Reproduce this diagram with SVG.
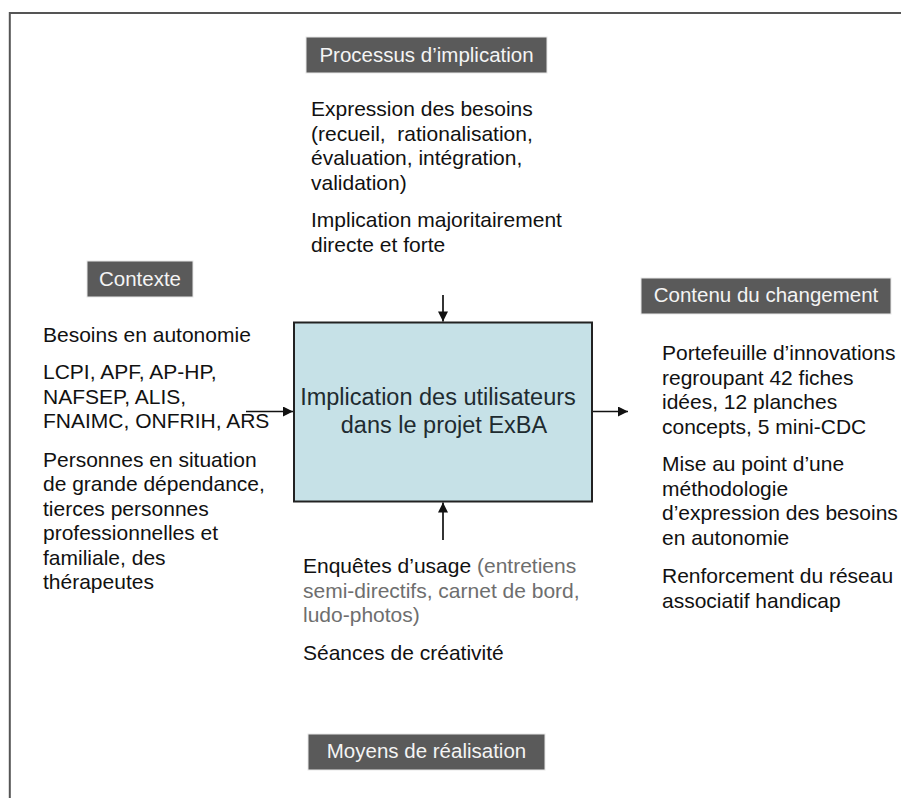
<svg xmlns="http://www.w3.org/2000/svg" width="901" height="798" viewBox="0 0 901 798">
<defs>
<style>
.hdr rect{fill:#5a5a5a;stroke:#e8e8e8;stroke-width:1}
.hdr text{font-family:"Liberation Sans",Arial,sans-serif;font-size:20.5px;fill:#f4f4f4;text-anchor:middle}
.body{font-family:"Liberation Sans",Arial,sans-serif;font-size:21px;fill:#111}
.gray{fill:#6e6e6e}
.conn line{stroke:#111;stroke-width:1.7;fill:none}
</style>
<marker id="ah" viewBox="0 0 10 10" refX="10" refY="5" markerWidth="13" markerHeight="10" markerUnits="userSpaceOnUse" orient="auto">
<path d="M0,0 L10,5 L0,10 Z" fill="#111"/>
</marker>
</defs>
<rect width="901" height="798" fill="#fff"/>
<path d="M9.8,798 V13 H901" fill="none" stroke="#555" stroke-width="2"/>

<g id="processus-header" class="hdr">
<rect x="306" y="37" width="241" height="36"/>
<text x="426.5" y="62">Processus d’implication</text>
</g>
<g id="processus-text" class="body">
<text x="311" y="116">Expression des besoins</text>
<text x="311" y="140.5" xml:space="preserve">(recueil,  rationalisation,</text>
<text x="311" y="165">évaluation, intégration,</text>
<text x="311" y="189.5">validation)</text>
<text x="311" y="227">Implication majoritairement</text>
<text x="311" y="251.5">directe et forte</text>
</g>

<g id="contexte-header" class="hdr">
<rect x="87" y="261" width="106" height="36"/>
<text x="140" y="285.5">Contexte</text>
</g>
<g id="contexte-text" class="body">
<text x="43" y="342">Besoins en autonomie</text>
<text x="43" y="379">LCPI, APF, AP-HP,</text>
<text x="43" y="403.5">NAFSEP, ALIS,</text>
<text x="43" y="428">FNAIMC, ONFRIH, ARS</text>
<text x="43" y="466.5">Personnes en situation</text>
<text x="43" y="491">de grande dépendance,</text>
<text x="43" y="515.5">tierces personnes</text>
<text x="43" y="540">professionnelles et</text>
<text x="43" y="564.5">familiale, des</text>
<text x="43" y="589">thérapeutes</text>
</g>

<g id="centre">
<rect x="294" y="322.5" width="298" height="179" fill="#c6e1e7" stroke="#222" stroke-width="2"/>
<text x="438" y="405" font-family="Liberation Sans, Arial, sans-serif" font-size="23.5" fill="#1e2b30" text-anchor="middle">Implication des utilisateurs</text>
<text x="444" y="433" font-family="Liberation Sans, Arial, sans-serif" font-size="23.5" fill="#1e2b30" text-anchor="middle">dans le projet ExBA</text>
</g>

<g id="contenu-header" class="hdr">
<rect x="641" y="278" width="250" height="36"/>
<text x="766" y="302">Contenu du changement</text>
</g>
<g id="contenu-text" class="body">
<text x="662" y="360">Portefeuille d’innovations</text>
<text x="662" y="384.5">regroupant 42 fiches</text>
<text x="662" y="409">idées, 12 planches</text>
<text x="662" y="433.5">concepts, 5 mini-CDC</text>
<text x="662" y="471">Mise au point d’une</text>
<text x="662" y="495.5">méthodologie</text>
<text x="662" y="520">d’expression des besoins</text>
<text x="662" y="544.5">en autonomie</text>
<text x="662" y="583">Renforcement du réseau</text>
<text x="662" y="607.5">associatif handicap</text>
</g>

<g id="moyens-text" class="body">
<text x="303" y="573">Enquêtes d’usage <tspan class="gray">(entretiens</tspan></text>
<text x="303" y="597.5" class="gray">semi-directifs, carnet de bord,</text>
<text x="303" y="622" class="gray">ludo-photos)</text>
<text x="303" y="660">Séances de créativité</text>
</g>
<g id="moyens-header" class="hdr">
<rect x="308" y="734" width="237" height="36"/>
<text x="426.5" y="758">Moyens de réalisation</text>
</g>

<g id="connectors" class="conn">
<line x1="443" y1="295" x2="443" y2="321.5" marker-end="url(#ah)"/>
<line x1="443" y1="540" x2="443" y2="502.5" marker-end="url(#ah)"/>
<line x1="246" y1="411.5" x2="293" y2="411.5" marker-end="url(#ah)"/>
<line x1="593" y1="411.5" x2="628" y2="411.5" marker-end="url(#ah)"/>
</g>
</svg>
